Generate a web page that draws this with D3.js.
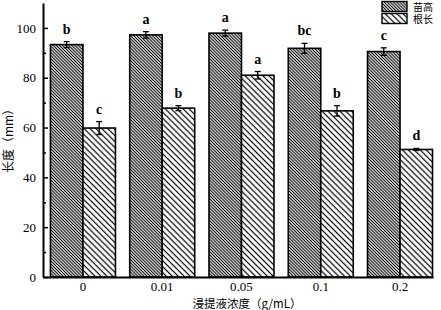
<!DOCTYPE html>
<html>
<head>
<meta charset="utf-8">
<script src="https://cdn.jsdelivr.net/npm/d3@7"></script>
<style>
  body { margin: 0; background: #fff; }
  svg { display: block; }
</style>
</head>
<body>
<div id="chart"></div>
<script>
'use strict'

// Data.
const categories = ['0', '0.01', '0.05', '0.1', '0.2'];
const seriesNames = ['苗高', '根长'];
const seedling = [93.3, 97.2, 97.9, 91.8, 90.5];
const seedlingErr = [1.2, 1.3, 1.2, 2.0, 1.5];
const root = [59.8, 67.8, 81.0, 66.7, 51.2];
const rootErr = [2.6, 1.0, 1.5, 2.1, 0.4];
const seedlingLetters = ['b', 'a', 'a', 'bc', 'c'];
const rootLetters = ['c', 'b', 'a', 'b', 'd'];
const yTicks = [0, 20, 40, 60, 80, 100];
const yMinorTicks = [10, 30, 50, 70, 90];

// Dimensions
const width = 441, height = 310;
const plot = {left: 43, right: 433, top: 3, bottom: 277};
const serif = '"Liberation Serif", "Times New Roman", serif';
const cjk = '"Noto Sans CJK SC", sans-serif';

const rows = [];
categories.forEach((c, i) => {
    rows.push({cat: c, series: seriesNames[0], value: seedling[i], err: seedlingErr[i], letter: seedlingLetters[i]});
    rows.push({cat: c, series: seriesNames[1], value: root[i], err: rootErr[i], letter: rootLetters[i]});
});

const svg = d3.select('#chart')
    .append('svg')
        .attr('width', width)
        .attr('height', height);

// Hatch patterns.
const defs = svg.append('defs');
function hatch(id, gap, lw) {
    const p = defs.append('pattern')
        .attr('id', id)
        .attr('patternUnits', 'userSpaceOnUse')
        .attr('width', 10)
        .attr('height', gap)
        .attr('patternTransform', 'rotate(45)');
    p.append('rect').attr('width', 10).attr('height', gap).attr('fill', '#fff');
    p.append('line')
        .attr('x1', 0).attr('x2', 10)
        .attr('y1', gap / 2).attr('y2', gap / 2)
        .attr('stroke', '#000')
        .attr('stroke-width', lw);
}
hatch('dense', 2.2, 1.1);
hatch('sparse', 4.2, 1.2);
const fills = {[seriesNames[0]]: 'url(#dense)', [seriesNames[1]]: 'url(#sparse)'};

// Scales.
const x = d3.scaleBand()
    .domain(categories)
    .range([plot.left, plot.right])
    .paddingInner(0.18)
    .paddingOuter(0.05)
    .align(0.94);

const xs = d3.scaleBand()
    .domain(seriesNames)
    .range([0, x.bandwidth()]);

const y = d3.scaleLinear()
    .domain([0, 110])
    .range([plot.bottom, plot.top]);

// Bars.
svg.append('g')
    .selectAll('rect')
    .data(rows)
    .join('rect')
        .attr('x', d => x(d.cat) + xs(d.series))
        .attr('y', d => y(d.value))
        .attr('width', xs.bandwidth())
        .attr('height', d => y(0) - y(d.value))
        .attr('fill', d => fills[d.series])
        .attr('stroke', '#000')
        .attr('stroke-width', 1.6);

// Error bars.
const eb = svg.append('g')
    .attr('stroke', '#000')
    .attr('stroke-width', 1.3)
    .selectAll('g')
    .data(rows)
    .join('g')
        .attr('transform', d => `translate(${x(d.cat) + xs(d.series) + xs.bandwidth() / 2},0)`);
eb.append('line')
    .attr('y1', d => y(d.value + d.err))
    .attr('y2', d => y(d.value - d.err));
eb.append('line')
    .attr('x1', -3).attr('x2', 3)
    .attr('y1', d => y(d.value + d.err))
    .attr('y2', d => y(d.value + d.err));
eb.append('line')
    .attr('x1', -3).attr('x2', 3)
    .attr('y1', d => y(d.value - d.err))
    .attr('y2', d => y(d.value - d.err));

// Significance letters.
svg.append('g')
    .selectAll('text')
    .data(rows)
    .join('text')
        .attr('x', d => x(d.cat) + xs(d.series) + xs.bandwidth() / 2)
        .attr('y', d => y(d.value + d.err) - 8)
        .attr('text-anchor', 'middle')
        .style('font-family', serif)
        .style('font-weight', 'bold')
        .style('font-size', '14px')
        .text(d => d.letter);

// Axes.
const xAxis = svg.append('g')
    .attr('transform', `translate(0,${plot.bottom})`)
    .call(d3.axisBottom(x).tickSize(0).tickPadding(5));
xAxis.select('.domain').attr('stroke-width', 2);
xAxis.selectAll('text')
    .style('font-family', serif)
    .style('font-size', '13px')
    .attr('fill', '#000');

const yAxis = svg.append('g')
    .attr('transform', `translate(${plot.left},0)`)
    .call(d3.axisLeft(y).tickValues(yTicks).tickSizeInner(-5).tickSizeOuter(0).tickPadding(7));
yAxis.select('.domain').attr('stroke-width', 2);
yAxis.selectAll('.tick line').attr('stroke-width', 1.5);
yAxis.selectAll('text')
    .style('font-family', serif)
    .style('font-size', '13px')
    .attr('fill', '#000');

svg.append('g')
    .attr('transform', `translate(${plot.left},0)`)
    .call(d3.axisLeft(y).tickValues(yMinorTicks).tickSizeInner(-3).tickSizeOuter(0).tickFormat(''))
    .call(g => g.select('.domain').remove())
    .call(g => g.selectAll('.tick line').attr('stroke-width', 1.5));

// Axis titles.
svg.append('text')
    .attr('x', 247)
    .attr('y', 308)
    .attr('text-anchor', 'middle')
    .style('font-family', cjk)
    .style('font-size', '11.5px')
    .text('浸提液浓度（g/mL）');

svg.append('text')
    .attr('transform', 'translate(13,138) rotate(-90)')
    .attr('text-anchor', 'middle')
    .style('font-family', cjk)
    .style('font-size', '12px')
    .text('长度（mm）');

// Legend.
const legend = svg.append('g')
    .selectAll('g')
    .data(seriesNames)
    .join('g')
        .attr('transform', (d, i) => `translate(382,${1.5 + i * 12})`);
legend.append('rect')
    .attr('width', 25)
    .attr('height', 10)
    .attr('fill', d => fills[d])
    .attr('stroke', '#000')
    .attr('stroke-width', 1.4);
legend.append('text')
    .attr('x', 31)
    .attr('y', 9.5)
    .style('font-family', cjk)
    .style('font-size', '10px')
    .text(d => d);
</script>
</body>
</html>
